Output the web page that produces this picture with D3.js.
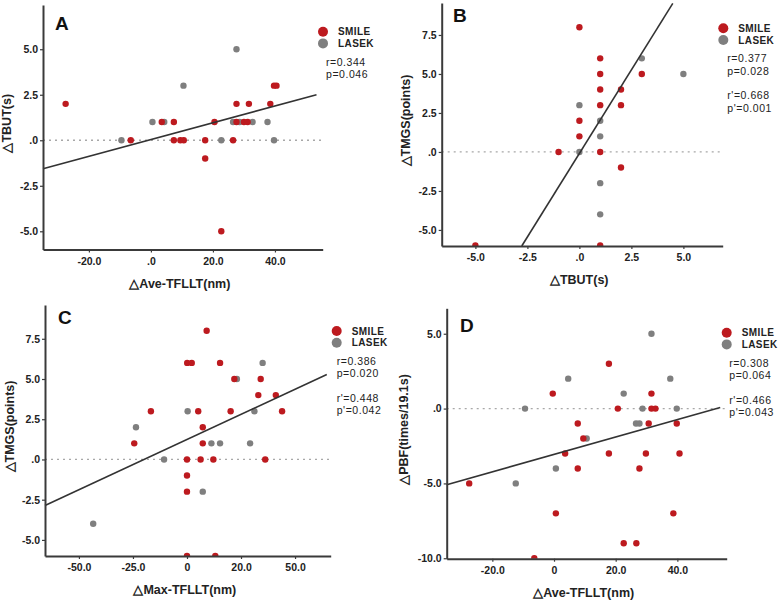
<!DOCTYPE html>
<html>
<head>
<meta charset="utf-8">
<script src="https://cdn.jsdelivr.net/npm/d3@7"></script>
<style>
  body { margin: 0; background: #fff; }
  svg { display: block; font-family: "Liberation Sans", Arial, sans-serif; }
</style>
</head>
<body>
<svg></svg>
<script>
// ---- data ----
const aSmile = [[-27.5,2],[-6.5,0],[3.5,1],[7.4,1],[7.4,0],[9.5,0],[10.6,0],[39.7,3],[40.5,3],
  [27.6,2],[31.6,2],[38.5,2],[20.5,1],[27.6,1],[30,1],[31.2,1],[17.5,0],[26.5,0],[17.5,-1],[22.7,-5]];
const aLasek = [[-9.5,0],[0.5,1],[4.3,1],[10.5,3],[27.6,5],[26.5,1],[28.6,1],[32.8,1],[37.6,1],[22.7,0],[39.7,0]];
const aFit = [-34.8, -1.57, 53.4, 2.5];

const bSmile = [[0,8],[0,2],[0,1],[-1,0],[-5,-6],[1,6],[1,5],[1,4],[1,3],[1,0],[1,-6],[3,5],[2,4],[2,3],[2,-1]];
const bLasek = [[0,3],[0,0],[1,2],[1,1],[1,-2],[1,-4],[3,6],[5,5]];
const bFit = [-2.77, -6.03, 4.49, 9.53];

const cSmile = [[-24.4,1],[-16.7,3],[0.1,6],[2.2,6],[5.2,3],[0,0],[0,-1],[0,-2],[0,-6],[6.3,0],[9.1,8],
  [15.3,6],[21.9,5],[34.1,5],[33,4],[41.1,4],[20.2,3],[44,3],[7.3,2],[7.3,1],[12.2,0],[36.2,0],[13.1,-6]];
const cLasek = [[-43.4,-4],[-23.6,2],[-10.6,0],[0.3,3],[35,6],[23.1,5],[31.2,3],[11.3,1],[15.3,1],[29.2,1],[7.3,-2]];
const cFit = [-65.7, -2.86, 64.7, 5.28];

const dSmile = [[-27.5,-5],[-0.4,1],[7.7,-1],[9.5,-2],[3.6,-3],[7.7,-4],[0.6,-7],[-6.4,-10],[17.8,3],[31.6,1],
  [20.7,0],[31.6,0],[32.9,0],[30.7,-1],[39.8,-1],[17.8,-3],[29.8,-3],[40.7,-3],[27.7,-4],[38.7,-7],[22.6,-9],[26.7,-9]];
const dLasek = [[-12.4,-5],[-9.4,0],[4.6,2],[10.6,-2],[0.6,-4],[31.6,5],[37.7,2],[22.6,1],[28.7,0],[39.8,0],[26.6,-1],[27.7,-1]];
const dFit = [-34.8, -5.09, 53.9, 0.07];

const aXTicks = [-20, 0, 20, 40], aXLabels = ["-20.0", ".0", "20.0", "40.0"];
const aYTicks = [5, 2.5, 0, -2.5, -5], aYLabels = ["5.0", "2.5", ".0", "-2.5", "-5.0"];
const bXTicks = [-5, -2.5, 0, 2.5, 5], bXLabels = ["-5.0", "-2.5", ".0", "2.5", "5.0"];
const bYTicks = [7.5, 5, 2.5, 0, -2.5, -5], bYLabels = ["7.5", "5.0", "2.5", ".0", "-2.5", "-5.0"];
const cXTicks = [-50, -25, 0, 25, 50], cXLabels = ["-50.0", "-25.0", "0", "20.0", "50.0"];
const cYTicks = bYTicks, cYLabels = bYLabels;
const dXTicks = [-20, 0, 20, 40], dXLabels = ["-20.0", "0", "20.0", "40.0"];
const dYTicks = [5, 0, -5, -10], dYLabels = ["5.0", ".0", "-5.0", "-10.0"];

const groups = ["SMILE", "LASEK"];
const aStats = ["r=0.344", "p=0.046"];
const bStats = ["r=0.377", "p=0.028", "r'=0.668", "p'=0.001"];
const cStats = ["r=0.386", "p=0.020", "r'=0.448", "p'=0.042"];
const dStats = ["r=0.308", "p=0.064", "r'=0.466", "p'=0.043"];

// ---- layout ----
const W = 778, H = 600;
const red = "#bd1a1f", gray = "#7f7f7f", ink = "#222";

const panels = [
  { id: "A", smile: aSmile, lasek: aLasek, fit: aFit, xt: aXTicks, xl: aXLabels, yt: aYTicks, yl: aYLabels,
    stats: aStats, xTitle: "△Ave-TFLLT(nm)", yTitle: "△TBUT(s)",
    xDom: [-34.8, 55.4], xRange: [43, 322.7], yDom: [-6, 7.43], yRange: [249.5, 5],
    leg: [323, 31.7], statX: 326, letter: [55, 30], yTitleOff: 32 },
  { id: "B", smile: bSmile, lasek: bLasek, fit: bFit, xt: bXTicks, xl: bXLabels, yt: bYTicks, yl: bYLabels,
    stats: bStats, xTitle: "△TBUT(s)", yTitle: "△TMGS(points)",
    xDom: [-6.62, 6.89], xRange: [441.7, 722.7], yDom: [-6.03, 9.55], yRange: [246, 3],
    leg: [723.3, 28.3], statX: 727.3, letter: [453, 22], yTitleOff: 32 },
  { id: "C", smile: cSmile, lasek: cLasek, fit: cFit, xt: cXTicks, xl: cXLabels, yt: cYTicks, yl: cYLabels,
    stats: cStats, xTitle: "△Max-TFLLT(nm)", yTitle: "△TMGS(points)",
    xDom: [-65.7, 66.5], xRange: [45, 330.7], yDom: [-6, 9.6], yRange: [556, 305],
    leg: [336.7, 331], statX: 336.7, letter: [58, 324], yTitleOff: 31 },
  { id: "D", smile: dSmile, lasek: dLasek, fit: dFit, xt: dXTicks, xl: dXLabels, yt: dYTicks, yl: dYLabels,
    stats: dStats, xTitle: "△Ave-TFLLT(nm)", yTitle: "△PBF(times/19.1s)",
    xDom: [-34.8, 56], xRange: [446.7, 726.7], yDom: [-10.03, 6.7], yRange: [558.7, 308.3],
    leg: [726.7, 332.7], statX: 729.3, letter: [460, 332], yTitleOff: 39 }
];

const svg = d3.select("svg").attr("width", W).attr("height", H);
const defs = svg.append("defs");

panels.forEach(p => {
  const x = d3.scaleLinear().domain(p.xDom).range(p.xRange);
  const y = d3.scaleLinear().domain(p.yDom).range(p.yRange);
  const g = svg.append("g").attr("class", "panel" + p.id);

  defs.append("clipPath").attr("id", "clip" + p.id)
    .append("rect")
    .attr("x", p.xRange[0]).attr("y", p.yRange[1] - 5)
    .attr("width", p.xRange[1] - p.xRange[0] + 5)
    .attr("height", p.yRange[0] - p.yRange[1] + 5);

  // dotted zero line
  g.append("line")
    .attr("x1", p.xRange[0]).attr("x2", p.xRange[1])
    .attr("y1", y(0)).attr("y2", y(0))
    .attr("stroke", "#a8a8a8").attr("stroke-width", 1.3)
    .attr("stroke-dasharray", "2,4");

  // points
  const pts = g.append("g").attr("clip-path", `url(#clip${p.id})`);
  [[p.lasek, gray], [p.smile, red]].forEach(([data, col]) => {
    pts.selectAll(null)
      .data(data)
      .enter()
      .append("circle")
      .attr("cx", d => x(d[0]))
      .attr("cy", d => y(d[1]))
      .attr("r", 3.2)
      .attr("fill", col);
  });

  // fit line
  g.append("line")
    .attr("x1", x(p.fit[0])).attr("y1", y(p.fit[1]))
    .attr("x2", x(p.fit[2])).attr("y2", y(p.fit[3]))
    .attr("stroke", "#333").attr("stroke-width", 1.6);

  // axes
  const xAxis = d3.axisBottom(x).tickValues(p.xt)
    .tickFormat((d, i) => p.xl[i]).tickSize(3).tickSizeOuter(0).tickPadding(5);
  const yAxis = d3.axisLeft(y).tickValues(p.yt)
    .tickFormat((d, i) => p.yl[i]).tickSize(3).tickSizeOuter(0).tickPadding(2);

  const gx = g.append("g").attr("transform", `translate(0,${p.yRange[0]})`).call(xAxis);
  const gy = g.append("g").attr("transform", `translate(${p.xRange[0]},0)`).call(yAxis);
  [gx, gy].forEach(a => {
    a.select(".domain").attr("stroke", "#3a3a3a").attr("stroke-width", 2);
    a.selectAll(".tick line").attr("stroke", "#3a3a3a").attr("stroke-width", 1.2);
    a.selectAll(".tick text")
      .attr("fill", ink).attr("font-size", 10.5).attr("font-weight", "bold")
      .attr("font-family", "'Liberation Sans', Arial, sans-serif");
  });

  // titles
  g.append("text")
    .attr("x", (p.xRange[0] + p.xRange[1]) / 2 - 3)
    .attr("y", p.yRange[0] + 38)
    .attr("text-anchor", "middle")
    .attr("font-size", 12.5).attr("font-weight", "bold").attr("fill", ink)
    .text(p.xTitle);

  g.append("text")
    .attr("transform", `translate(${p.xRange[0] - p.yTitleOff},${(p.yRange[0] + p.yRange[1]) / 2 - 4}) rotate(-90)`)
    .attr("text-anchor", "middle")
    .attr("font-size", 12.5).attr("font-weight", "bold").attr("fill", ink)
    .text(p.yTitle);

  // panel letter
  g.append("text")
    .attr("x", p.letter[0]).attr("y", p.letter[1])
    .attr("font-size", 19).attr("font-weight", "bold").attr("fill", "#111")
    .text(p.id);

  // legend
  const leg = g.append("g").attr("transform", `translate(${p.leg[0]},${p.leg[1]})`);
  groups.forEach((name, i) => {
    leg.append("circle")
      .attr("cx", 0).attr("cy", i * 11.7)
      .attr("r", 5)
      .attr("fill", i === 0 ? red : gray);
    leg.append("text")
      .attr("x", 15).attr("y", i * 11.7 + 3.7)
      .attr("font-size", 10).attr("font-weight", "bold").attr("fill", ink)
      .attr("letter-spacing", 0.4)
      .text(name);
  });

  // stats
  const statY = [30, 42.2, 67, 79.2];
  g.selectAll(null)
    .data(p.stats)
    .enter()
    .append("text")
    .attr("x", p.statX)
    .attr("y", (d, i) => p.leg[1] + statY[i] + 4)
    .attr("font-size", 10.5).attr("letter-spacing", 0.55).attr("fill", ink)
    .text(d => d);
});
</script>
</body>
</html>
